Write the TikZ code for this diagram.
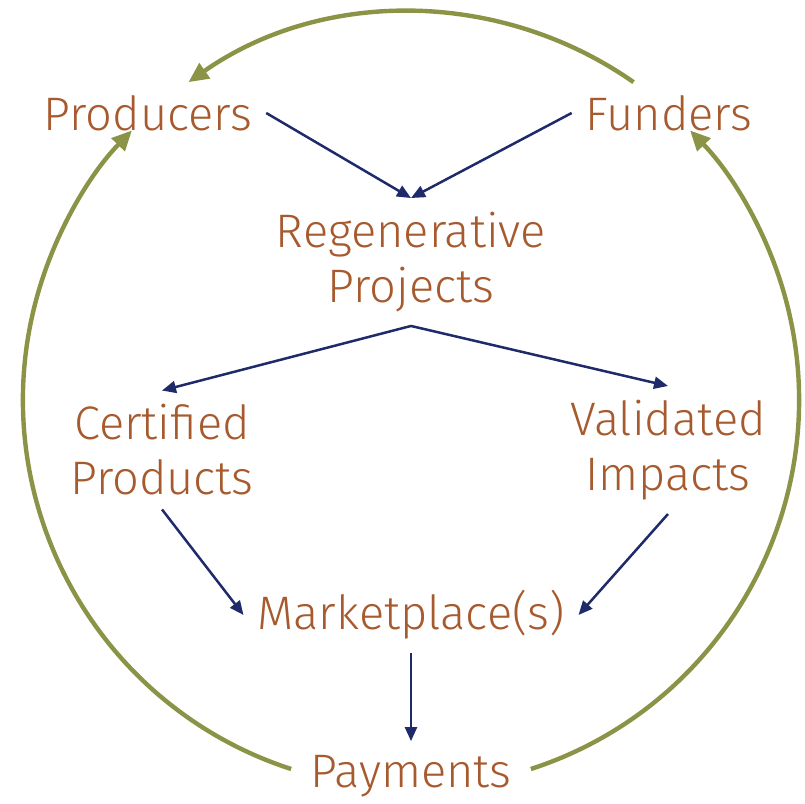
\documentclass[tikz,border=0pt]{standalone}
\usepackage{fontspec}
\setmainfont{Fira Sans Light}
\usepackage{tikz}
\usetikzlibrary{arrows.meta}
\definecolor{rust}{HTML}{A65A2E}
\definecolor{olive}{HTML}{8A9346}
\definecolor{navy}{HTML}{1F2A6B}
\tikzset{
  lbl/.style={text=rust, font=\fontsize{23.5}{27.5}\selectfont, align=center, inner sep=2pt, outer sep=5pt},
  flow/.style={navy, line width=1.25pt, -{Triangle[length=7pt, width=6pt]}},
  cyc/.style={olive, line width=2.2pt, -{Triangle[length=10pt, width=9pt]}}
}

\begin{document}
\begin{tikzpicture}[x=0.5pt, y=0.5pt]
	\useasboundingbox (0,0) rectangle (805,804);
	\coordinate (c) at (411,404);
	\node[lbl] (prod) at (148,691) {Producers};
	\node[lbl] (fund) at (669,691) {Funders};
	\node[lbl] (regen) at (411,542) {Regenerative\\Projects};
	\node[lbl] (cert) at (162,354) {Certified\\Products};
	\node[lbl] (valid) at (668,354) {Validated\\Impacts};
	\node[lbl] (market) at (411,189) {Marketplace(s)};
	\node[lbl] (pay) at (411,28) {Payments};
	\draw[flow] (prod.east) -- (regen.north);
	\draw[flow] (fund.west) -- (regen.north);
	\draw[flow] (regen.south) -- (cert.north);
	\draw[flow] (regen.south) -- (valid.north);
	\draw[flow] (cert.south) -- (market.west);
	\draw[flow] (valid.south) -- (market.east);
	\draw[flow] (market.south) -- (pay.north);
	\draw[cyc] ([shift={(55:194pt)}]c) arc[start angle=55, end angle=125, radius=194pt];
	\draw[cyc] ([shift={(252:194pt)}]c) arc[start angle=252, end angle=136, radius=194pt];
	\draw[cyc] ([shift={(-72:194pt)}]c) arc[start angle=-72, end angle=44, radius=194pt];
\end{tikzpicture}
\end{document}
